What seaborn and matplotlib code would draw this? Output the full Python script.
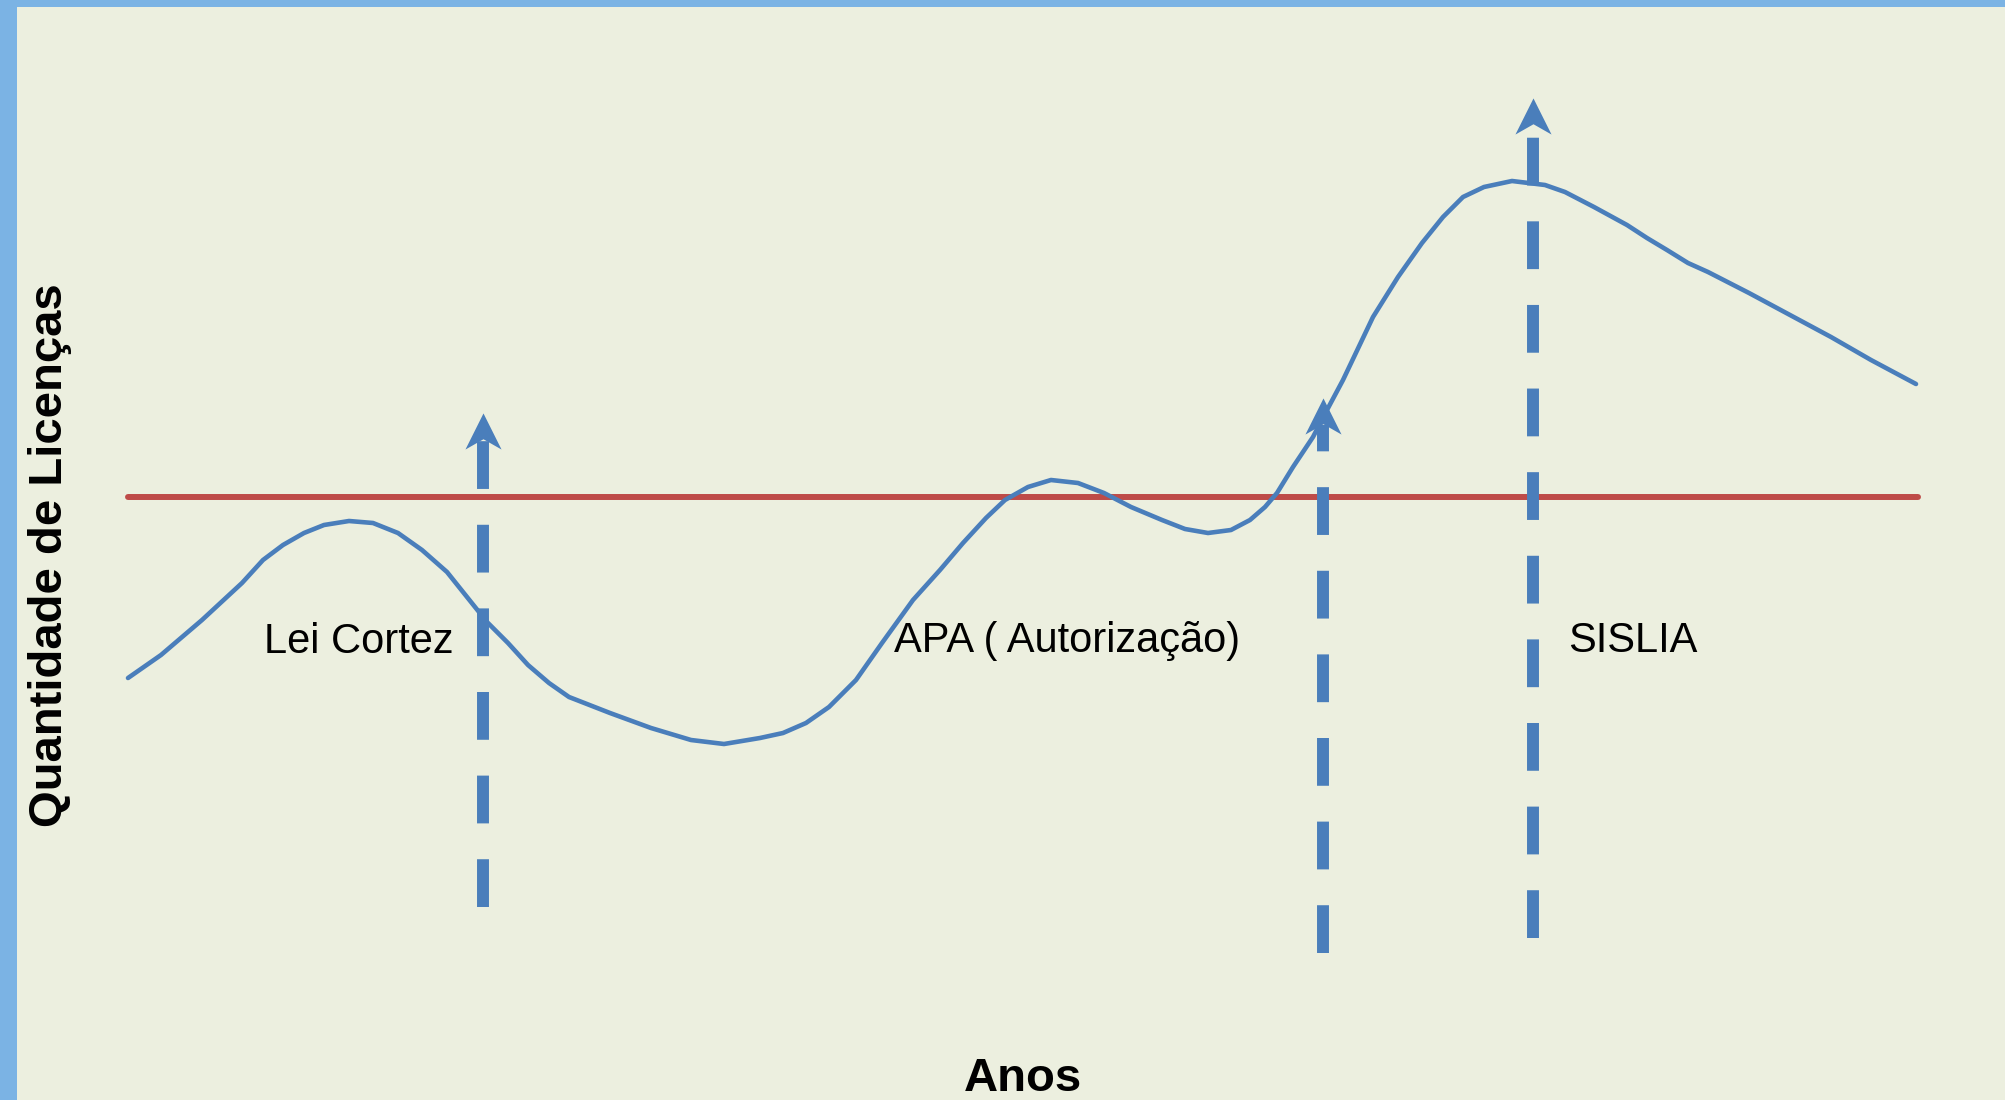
import matplotlib
matplotlib.use("Agg")
import matplotlib.pyplot as plt
import seaborn as sns
import numpy as np
import pandas as pd
from matplotlib.path import Path

# curve (pixel space of the 2005x1100 image, y down)
curve_x = [128, 161, 202, 242, 263, 283, 304, 324, 349, 373, 398, 422, 447, 467,
           487, 508, 528, 549, 569, 610, 651, 691, 724, 760,
           783, 806, 829, 856, 882, 913, 940, 963, 986, 1005, 1028, 1051, 1078,
           1104, 1131, 1162, 1185, 1208, 1231, 1250, 1265, 1277,
           1293, 1313, 1327, 1343, 1373, 1398, 1422, 1443, 1463, 1484, 1512,
           1545, 1565, 1594, 1627, 1647, 1667, 1688, 1708, 1749, 1790, 1831,
           1871, 1916]
curve_y = [678, 655, 620, 583, 560, 545, 533, 525, 521, 523, 533, 550, 572, 597,
           622, 643, 665, 683, 697, 713, 728, 740, 744, 738,
           733, 723, 707, 680, 643, 600, 570, 543, 518, 500, 487, 480, 483,
           493, 507, 520, 529, 533, 530, 520, 507, 493,
           467, 437, 410, 380, 317, 277, 243, 217, 197, 187, 181,
           185, 192, 207, 225, 238, 250, 263, 272, 293, 315, 337,
           360, 384]

ref_line_y = 497
ref_line_x = [128, 1918]

# events (dashed arrows)
arrow_x = [483, 1323, 1533]
arrow_bottom = [907, 953, 938]
arrow_tip = [413, 398, 98]
head_len = 35

labels = ["Lei Cortez", "APA ( Autorização)", "SISLIA"]
label_x = [264, 894, 1568]
label_y = [653, 652, 652]

blue = "#4A7EBB"
red = "#BE4B48"
bg = "#ECEFDF"
frame = "#7BB3E4"

sns.set_style("white")
plt.rcParams["font.family"] = ["Liberation Sans", "DejaVu Sans"]

W, H = 2005, 1100
fig = plt.figure(figsize=(20.05, 11), dpi=100, facecolor=frame)
ax = fig.add_axes([17 / W, 0, 1 - 17 / W, 1 - 7 / H])
ax.set_facecolor(bg)
ax.set_xlim(17, W)
ax.set_ylim(H, 7)
ax.set_axis_off()
ax.add_patch(plt.Rectangle((0, 0), 1, 1, transform=ax.transAxes, color=bg, zorder=0))

df = pd.DataFrame({"x": curve_x, "y": curve_y})

# red reference level
ax.plot(ref_line_x, [ref_line_y, ref_line_y], color=red, lw=4.3, zorder=2)

# arrows: dashed shaft + notched head
head = Path([(0, 1), (-1, -1), (0, -0.43), (1, -1), (0, 1)],
            [Path.MOVETO, Path.LINETO, Path.LINETO, Path.LINETO, Path.CLOSEPOLY])
for x, b, t in zip(arrow_x, arrow_bottom, arrow_tip):
    base = t + head_len
    ax.plot([x, x], [b, base - 8], color=blue, lw=8.6, dashes=(4, 3),
            solid_capstyle="butt", dash_capstyle="butt", zorder=3)
    ax.plot([x], [t + head_len / 2], marker=head, markersize=26,
            color=blue, markeredgewidth=0, zorder=4)

sns.lineplot(data=df, x="x", y="y", sort=False, estimator=None, ax=ax,
             color=blue, lw=3.3, solid_capstyle="round", solid_joinstyle="round",
             zorder=5)

for s, x, y in zip(labels, label_x, label_y):
    ax.text(x, y, s, fontsize=30, ha="left", va="baseline", color="black", zorder=6)

ax.text(1023, 1091, "Anos", fontsize=34, fontweight="bold", ha="center",
        va="baseline", color="black")
ax.text(50, 555, "Quantidade de Licenças", fontsize=34, fontweight="bold",
        rotation=90, ha="center", va="center", color="black")

fig.savefig("out.png", dpi=100, facecolor=frame)
